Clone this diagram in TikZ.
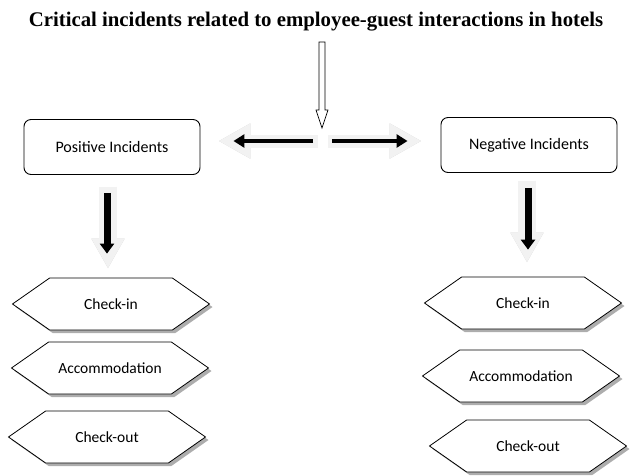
\documentclass[tikz,border=0pt]{standalone}
\usepackage{fontspec}
\setmainfont{Carlito}
\newfontfamily\titlefont{Liberation Serif}
\usetikzlibrary{arrows.meta, positioning, shapes.symbols, shadows, calc}

\begin{document}
\begin{tikzpicture}[x=1pt, y=-1pt,
  box/.style={shape=rectangle, draw, line width=0.9pt, rounded corners=7pt, minimum width=176pt, minimum height=55pt, font=\fontsize{16}{19}\selectfont},
  stage/.style={shape=signal, signal to=west and east, signal pointer angle=70, draw, line width=0.8pt, fill=white, minimum width=197pt, minimum height=52pt, font=\fontsize{15.5}{18}\selectfont, drop shadow={shadow xshift=3pt, shadow yshift=-3pt, fill=gray!80, opacity=0.8}},
  hblock/.style={line width=13pt, -{Triangle[length=32pt, width=33pt]}},
  vblock/.style={line width=18pt, -{Triangle[length=30pt, width=31pt]}},
  hline/.style={line width=4.5pt, -{Triangle[length=11pt, width=13pt]}},
  vline/.style={line width=7pt, -{Triangle[length=10pt, width=14pt]}}]
	\useasboundingbox (0,0) rectangle (635,475);
	% Title and split
	\node[font=\titlefont\bfseries\fontsize{20.8}{24}\selectfont] (title) at (316,22) {Critical incidents related to employee-guest interactions in hotels};
	\coordinate (top) at (322,42);
	\coordinate (hub) at (322,128);
	\coordinate (split) at (323,141);
	\node[box] (pos) at (112,147) {Positive Incidents};
	\node[box] (neg) at (529,145) {Negative Incidents};
	% Stages
	\node[stage] (pin) at (111,304) {Check-in};
	\node[stage] (pacc) at (110,368) {Accommodation};
	\node[stage] (pout) at (107,437) {Check-out};
	\node[stage] (nin) at (523,303) {Check-in};
	\node[stage] (nacc) at (521,376) {Accommodation};
	\node[stage] (nout) at (528,446) {Check-out};
	% Arrows
	\draw[line width=0.7pt, fill=white] (hub) -- ($(hub)+(-6,-18)$) -- ($(hub)+(-3,-18)$) -- ($(top)+(-3,0)$) -- ($(top)+(3,0)$) -- ($(hub)+(3,-18)$) -- ($(hub)+(6,-18)$) -- cycle;
	\draw[hblock, draw=gray!40, shift={(3,4)}] ($(split)+(-5,0)$) -- ($(split -| pos.east)+(18,0)$);
	\draw[hblock, draw=gray!10] ($(split)+(-5,0)$) -- ($(split -| pos.east)+(18,0)$);
	\draw[hline] ($(split)+(-10,0)$) -- ($(split -| pos.east)+(33,0)$);
	\draw[hblock, draw=gray!40, shift={(3,4)}] ($(split)+(5,0)$) -- ($(split -| neg.west)+(-19,0)$);
	\draw[hblock, draw=gray!10] ($(split)+(5,0)$) -- ($(split -| neg.west)+(-19,0)$);
	\draw[hline] ($(split)+(9,0)$) -- ($(split -| neg.west)+(-33,0)$);
	\draw[vblock, draw=gray!40, shift={(3,3)}] ($(pos.south)+(-4,12)$) -- ($(pin.north)+(-3,-9)$);
	\draw[vblock, draw=gray!10] ($(pos.south)+(-4,12)$) -- ($(pin.north)+(-3,-9)$);
	\draw[vline] ($(pos.south)+(-5,18)$) -- ($(pin.north)+(-4,-24)$);
	\draw[vblock, draw=gray!40, shift={(3,3)}] ($(neg.south)+(-2,8)$) -- ($(nin.north)+(4,-14)$);
	\draw[vblock, draw=gray!10] ($(neg.south)+(-2,8)$) -- ($(nin.north)+(4,-14)$);
	\draw[vline] ($(neg.south)+(-1,15)$) -- ($(nin.north)+(5,-27)$);
\end{tikzpicture}
\end{document}
